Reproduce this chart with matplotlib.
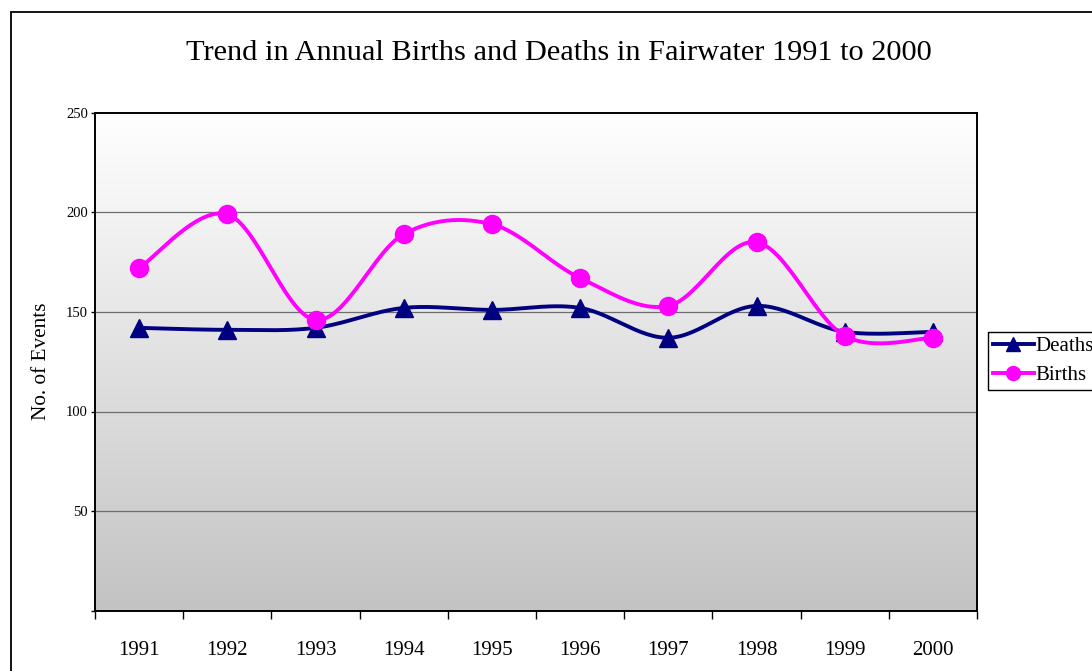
import numpy as np
import matplotlib
matplotlib.use("Agg")
import matplotlib.pyplot as plt
from matplotlib.lines import Line2D
from matplotlib.patches import Rectangle

years = ["1991", "1992", "1993", "1994", "1995", "1996", "1997", "1998", "1999", "2000"]
deaths = [142, 141, 142, 152, 151, 152, 137, 153, 140, 140]
births = [172, 199, 146, 189, 194, 167, 153, 185, 138, 137]
y_ticks = [0, 50, 100, 150, 200, 250]
y_tick_labels = ["", "50", "100", "150", "200", "250"]

plt.rcParams['font.family'] = ['Liberation Serif', 'DejaVu Serif']


def smooth(xs, ys, n=30):
    # catmull-rom style bezier, like the smoothed lines in a spreadsheet chart
    xs = np.asarray(xs, float)
    ys = np.asarray(ys, float)
    px = np.concatenate([[xs[0]], xs, [xs[-1]]])
    py = np.concatenate([[ys[0]], ys, [ys[-1]]])
    out_x, out_y = [], []
    t = np.linspace(0, 1, n)
    for i in range(1, len(px) - 2):
        p0 = np.array([px[i], py[i]])
        p3 = np.array([px[i + 1], py[i + 1]])
        c1 = p0 + (np.array([px[i + 1], py[i + 1]]) - np.array([px[i - 1], py[i - 1]])) / 6
        c2 = p3 - (np.array([px[i + 2], py[i + 2]]) - np.array([px[i], py[i]])) / 6
        b = ((1 - t) ** 3)[:, None] * p0 + (3 * (1 - t) ** 2 * t)[:, None] * c1 \
            + (3 * (1 - t) * t ** 2)[:, None] * c2 + (t ** 3)[:, None] * p3
        out_x.extend(b[:, 0])
        out_y.extend(b[:, 1])
    return out_x, out_y


fig = plt.figure(figsize=(10.92, 6.71), dpi=100)
ax = fig.add_axes([95 / 1092, 1 - 610.7 / 671, (977 - 95) / 1092, (610.7 - 112.7) / 671])

# grey gradient background
grad = np.linspace(0, 1, 256)[:, None]
cmap = matplotlib.colors.LinearSegmentedColormap.from_list("bg", ["#FFFFFF", "#C3C3C3"])
ax.imshow(grad, aspect="auto", cmap=cmap, extent=[0, 1, 0, 1], transform=ax.transAxes,
          zorder=0, origin="upper")

x = np.arange(len(years))
ax.set_xlim(-0.5, len(years) - 0.5)
ax.set_ylim(0, 250)

for yv in [50, 100, 150, 200]:
    ax.axhline(yv, color="#6E6E6E", lw=0.9, zorder=1)

dx, dy = smooth(x, deaths)
bx, by = smooth(x, births)
ax.plot(dx, dy, color="#000080", lw=2.8, zorder=3, solid_capstyle="round")
ax.plot(x, deaths, ls="none", marker="^", ms=13, color="#000080", zorder=4)
ax.plot(bx, by, color="#FF00FF", lw=2.8, zorder=5, solid_capstyle="round")
ax.plot(x, births, ls="none", marker="o", ms=13, color="#FF00FF", zorder=6)

for s in ax.spines.values():
    s.set_linewidth(1.4)
    s.set_color("black")

ax.set_yticks(y_ticks)
ax.set_yticklabels(y_tick_labels, fontsize=10.5)
ax.tick_params(axis="y", length=3, width=1, pad=2)

ax.set_xticks(np.arange(-0.5, len(years), 1.0))
ax.set_xticklabels([])
ax.tick_params(axis="x", which="major", length=6, width=1)
ax.set_xticks(x, minor=True)
ax.set_xticklabels(years, minor=True, fontsize=15)
ax.tick_params(axis="x", which="minor", length=0, pad=22)

fig.text(0.512, 1 - 60.5 / 671, "Trend in Annual Births and Deaths in Fairwater 1991 to 2000",
         fontsize=21.9, ha="center", va="baseline")
fig.text(41 / 1092, 1 - 361.5 / 671, "No. of Events", fontsize=15.3, rotation=90,
         ha="center", va="center")

handles = [
    Line2D([], [], color="#000080", lw=2.8, marker="^", ms=10),
    Line2D([], [], color="#FF00FF", lw=2.8, marker="o", ms=10),
]
leg = fig.legend(handles, ["Deaths", "Births"], loc="upper left",
                 bbox_to_anchor=(988.3 / 1092, 1 - 332.3 / 671), fontsize=15,
                 frameon=True, fancybox=False, edgecolor="black", framealpha=1,
                 handlelength=1.95, handletextpad=0.1, borderpad=0.22,
                 labelspacing=0.45, borderaxespad=0, numpoints=1)
leg.get_frame().set_linewidth(1.0)

# outer chart border, runs off the right and bottom edges
fig.patches.append(Rectangle((11 / 1092, -0.1), 1.2, 1 - 12 / 671 + 0.1, transform=fig.transFigure,
                             fill=False, edgecolor="black", lw=1.3))

fig.savefig("out.png", dpi=100)
